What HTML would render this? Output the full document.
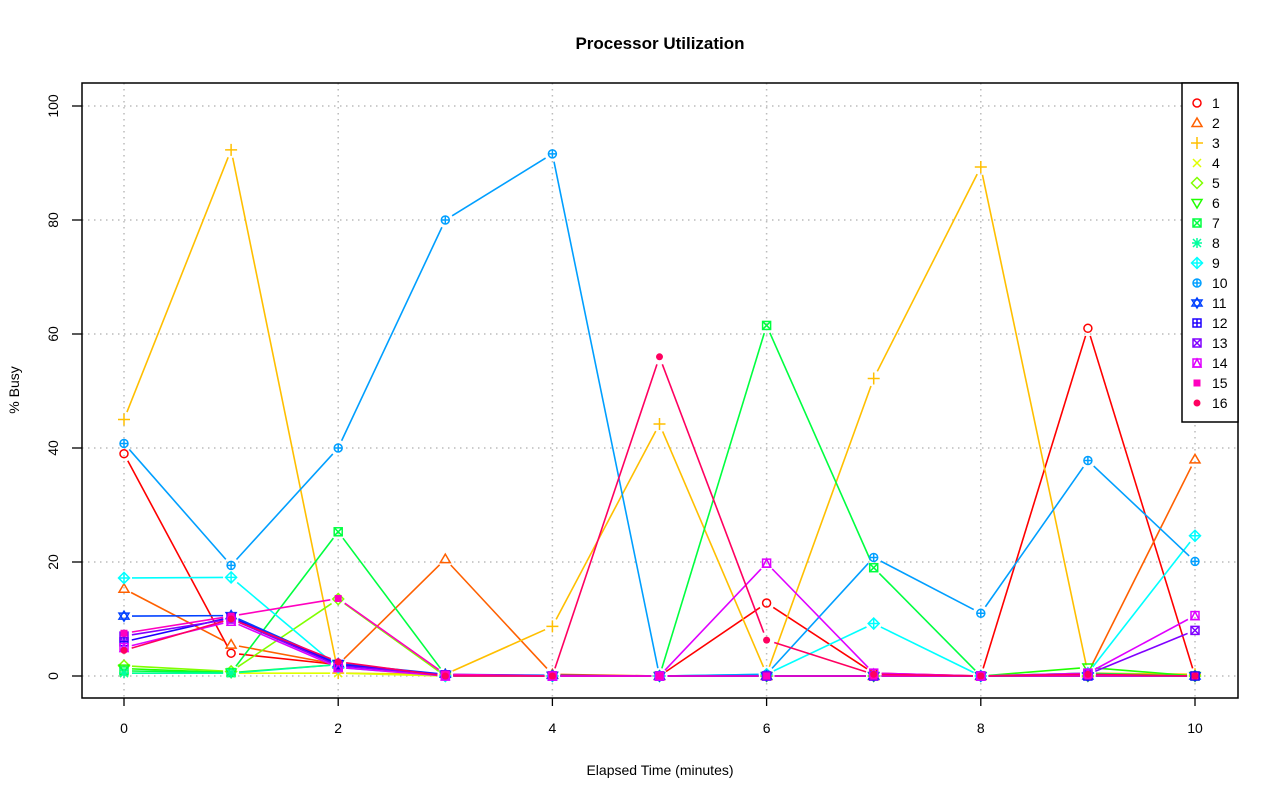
<!DOCTYPE html>
<html><head><meta charset="utf-8"><style>
html,body{margin:0;padding:0;background:#fff;}
svg{display:block;font-family:"Liberation Sans",Arial,sans-serif;}
</style></head><body>
<svg id="s" width="1280" height="801" xmlns="http://www.w3.org/2000/svg">
<rect width="1280" height="801" fill="#fff"/>
<text x="660" y="49" text-anchor="middle" font-size="17" font-weight="bold">Processor Utilization</text>
<text x="660" y="775" text-anchor="middle" font-size="14">Elapsed Time (minutes)</text>
<text transform="translate(19,390) rotate(-90)" text-anchor="middle" font-size="14">% Busy</text>
<g id="g"></g>
</svg>
<script>
const NS="http://www.w3.org/2000/svg",g=document.getElementById('g');
const X=i=>124+107.1*i, Y=v=>676-5.7*v;
function el(t,a,p){const e=document.createElementNS(NS,t);for(const k in a)e.setAttribute(k,a[k]);(p||g).appendChild(e);return e;}
// grid
for(let i=0;i<=10;i+=2){el('line',{x1:X(i),x2:X(i),y1:83,y2:698,stroke:'#bbb','stroke-dasharray':'1.5,4.5','stroke-width':1.5});
 el('line',{x1:X(i),x2:X(i),y1:698,y2:706,stroke:'#000','stroke-width':1.3});
 const t=el('text',{x:X(i),y:733,'text-anchor':'middle','font-size':14});t.textContent=i;}
for(let v=0;v<=100;v+=20){el('line',{x1:82,x2:1238,y1:Y(v),y2:Y(v),stroke:'#bbb','stroke-dasharray':'1.5,4.5','stroke-width':1.5});
 el('line',{x1:72,x2:82,y1:Y(v),y2:Y(v),stroke:'#000','stroke-width':1.3});
 const t=el('text',{transform:`translate(58,${Y(v)}) rotate(-90)`,'text-anchor':'middle','font-size':14});t.textContent=v;}
const C=["#FF0000","#FF6000","#FFBF00","#DFFF00","#80FF00","#20FF00","#00FF40","#00FF9F","#00FFFF","#009FFF","#0040FF","#2000FF","#8000FF","#DF00FF","#FF00BF","#FF0060"];
const D=[
[39,4,2,0.2,0.1,0,12.8,0.5,0,61,0],
[15.3,5.5,2,20.5,0.3,0,0,0,0,0.5,38],
[45,92.3,0.5,0.3,8.7,44.2,0.3,52.2,89.3,0.5,0.3],
[0.5,0.5,0.5,0,0,0,0,0,0,0,0],
[1.8,0.8,13.5,0,0,0,0,0,0,0,0],
[1.3,0.6,2,0,0,0,0,0,0,1.5,0],
[0.9,0.6,25.3,0.2,0,0,61.5,19,0,0.5,0],
[0.5,0.5,2,0,0,0,0,0,0,0,0],
[17.2,17.3,1.5,0,0,0,0.3,9.2,0,0.5,24.6],
[40.8,19.4,40,80,91.6,0,0.3,20.8,11,37.8,20.1],
[10.5,10.6,2.2,0.3,0.1,0,0,0,0,0,0],
[6,10.3,2,0.2,0,0,0,0,0,0,0],
[7,10,1.8,0.2,0,0,0,0,0,0.3,8],
[5,9.6,1.5,0,0,0,19.8,0.5,0,0.5,10.6],
[7.5,10.5,13.6,0.3,0,0,0,0,0,0,0],
[4.5,10,2.5,0,0,56,6.3,0.3,0,0.3,0]];
function sym(k,x,y,c){const s={stroke:c,'stroke-width':1.5,fill:'none'};const r=4;
 switch(k){
 case 0:el('circle',{cx:x,cy:y,r:r,...s});break;
 case 1:el('polygon',{points:`${x},${y-5} ${x+5},${y+3.5} ${x-5},${y+3.5}`,...s});break;
 case 2:el('path',{d:`M${x-6} ${y}H${x+6}M${x} ${y-6}V${y+6}`,...s});break;
 case 3:el('path',{d:`M${x-4} ${y-4}L${x+4} ${y+4}M${x+4} ${y-4}L${x-4} ${y+4}`,...s});break;
 case 4:el('polygon',{points:`${x},${y-5.5} ${x+5.5},${y} ${x},${y+5.5} ${x-5.5},${y}`,...s});break;
 case 5:el('polygon',{points:`${x},${y+5} ${x+5},${y-3.5} ${x-5},${y-3.5}`,...s});break;
 case 6:el('rect',{x:x-4,y:y-4,width:8,height:8,...s});el('path',{d:`M${x-4} ${y-4}L${x+4} ${y+4}M${x+4} ${y-4}L${x-4} ${y+4}`,...s});break;
 case 7:el('path',{d:`M${x-5} ${y}H${x+5}M${x} ${y-5}V${y+5}M${x-4} ${y-4}L${x+4} ${y+4}M${x+4} ${y-4}L${x-4} ${y+4}`,...s});break;
 case 8:el('polygon',{points:`${x},${y-5.5} ${x+5.5},${y} ${x},${y+5.5} ${x-5.5},${y}`,...s});el('path',{d:`M${x-5} ${y}H${x+5}M${x} ${y-5}V${y+5}`,...s});break;
 case 9:el('circle',{cx:x,cy:y,r:r,...s});el('path',{d:`M${x-4} ${y}H${x+4}M${x} ${y-4}V${y+4}`,...s});break;
 case 10:el('polygon',{points:`${x},${y-5} ${x+5},${y+3} ${x-5},${y+3}`,...s});el('polygon',{points:`${x},${y+5} ${x+5},${y-3} ${x-5},${y-3}`,...s});break;
 case 11:el('rect',{x:x-4,y:y-4,width:8,height:8,...s});el('path',{d:`M${x-4} ${y}H${x+4}M${x} ${y-4}V${y+4}`,...s});break;
 case 12:el('rect',{x:x-4,y:y-4,width:8,height:8,...s});el('path',{d:`M${x-4} ${y-4}L${x+4} ${y+4}M${x+4} ${y-4}L${x-4} ${y+4}`,...s});break;
 case 13:el('rect',{x:x-4,y:y-4,width:8,height:8,...s});el('polygon',{points:`${x},${y-4} ${x+4},${y+4} ${x-4},${y+4}`,...s});break;
 case 14:el('rect',{x:x-3.5,y:y-3.5,width:7,height:7,fill:c});break;
 case 15:el('circle',{cx:x,cy:y,r:3.5,fill:c});break;}}
D.forEach((d,k)=>{const c=C[k];
 const pts=d.map((v,i)=>[X(i),Y(v)]);
 for(let i=0;i<pts.length-1;i++){const [x1,y1]=pts[i],[x2,y2]=pts[i+1];const dx=x2-x1,dy=y2-y1,L=Math.hypot(dx,dy),gp=8;
  if(L>2*gp)el('line',{x1:x1+dx*gp/L,y1:y1+dy*gp/L,x2:x2-dx*gp/L,y2:y2-dy*gp/L,stroke:c,'stroke-width':1.6});}
 pts.forEach(([x,y])=>sym(k,x,y,c));});
// frame
el('rect',{x:82,y:83,width:1156,height:615,fill:'none',stroke:'#000','stroke-width':1.5});
// legend
el('rect',{x:1182,y:83,width:56,height:339,fill:'#fff',stroke:'#000','stroke-width':1.5});
C.forEach((c,k)=>{const y=103+20*k;sym(k,1197,y,c);const t=el('text',{x:1212,y:y+5,'font-size':14});t.textContent=k+1;});
</script>
</body></html>
